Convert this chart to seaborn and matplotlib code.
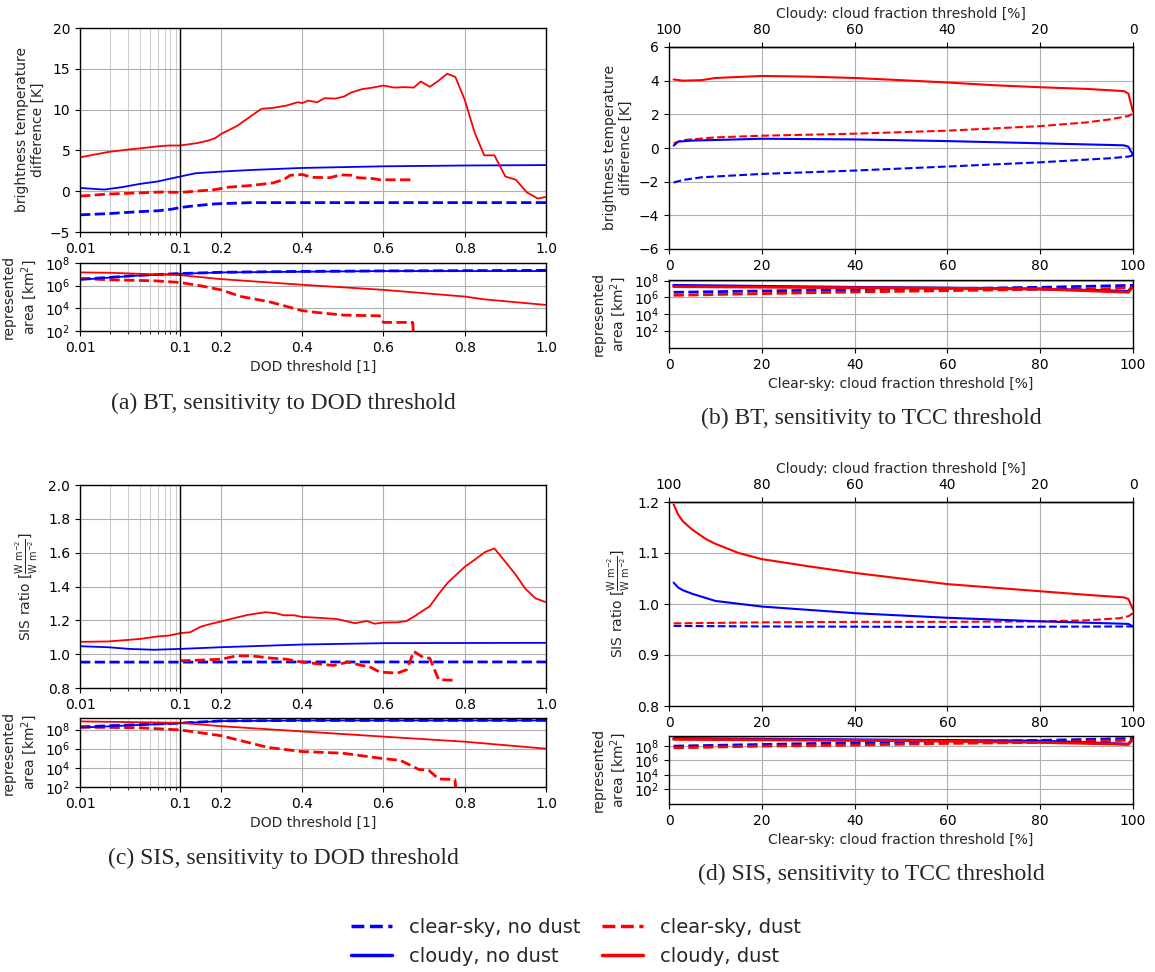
import numpy as np
import matplotlib
matplotlib.use("Agg")
import matplotlib.pyplot as plt
import seaborn as sns
from matplotlib.lines import Line2D
from matplotlib.ticker import FixedLocator, NullLocator

# ---------------- data ----------------
# Panel (a): BT vs DOD threshold
a_cd_x = [0.01, 0.019, 0.03, 0.04, 0.06, 0.077, 0.1, 0.142, 0.169, 0.186, 0.2, 0.22, 0.24, 0.274, 0.30,
          0.327, 0.362, 0.389, 0.4, 0.415, 0.437, 0.455, 0.481, 0.503, 0.521, 0.547, 0.574, 0.6, 0.626,
          0.653, 0.675, 0.692, 0.714, 0.732, 0.757, 0.777, 0.8, 0.825, 0.848, 0.873, 0.9, 0.926, 0.953,
          0.98, 1.0]
a_cd_y = [4.15, 4.8, 5.1, 5.25, 5.5, 5.6, 5.6, 5.9, 6.2, 6.5, 7.0, 7.5, 8.0, 9.2, 10.1,
          10.2, 10.5, 10.9, 10.8, 11.1, 10.9, 11.4, 11.35, 11.6, 12.1, 12.5, 12.7, 12.95, 12.7,
          12.75, 12.7, 13.45, 12.8, 13.4, 14.4, 14.0, 11.2, 7.1, 4.4, 4.4, 1.8, 1.4, -0.15,
          -0.9, -0.7]
a_cn_x = [0.01, 0.0175, 0.0264, 0.0398, 0.06, 0.077, 0.1, 0.138, 0.2, 0.274, 0.4, 0.6, 0.8, 1.0]
a_cn_y = [0.4, 0.2, 0.5, 0.9, 1.2, 1.5, 1.8, 2.2, 2.4, 2.6, 2.85, 3.05, 3.15, 3.2]
a_sn_x = [0.01, 0.019, 0.0398, 0.06, 0.083, 0.1, 0.133, 0.186, 0.274, 0.4, 0.6, 0.8, 1.0]
a_sn_y = [-2.9, -2.75, -2.5, -2.4, -2.2, -2.0, -1.8, -1.55, -1.4, -1.4, -1.4, -1.4, -1.4]
a_sd_x = [0.01, 0.019, 0.0398, 0.065, 0.1, 0.15, 0.186, 0.22, 0.274, 0.327, 0.354, 0.371, 0.4,
          0.424, 0.468, 0.494, 0.521, 0.538, 0.574, 0.591, 0.67]
a_sd_y = [-0.6, -0.35, -0.2, -0.1, -0.15, 0.05, 0.2, 0.5, 0.7, 1.0, 1.4, 1.95, 2.05,
          1.7, 1.65, 2.0, 1.95, 1.65, 1.55, 1.4, 1.4]
# represented area (log10 km^2)
a_area_cd_x = [0.01, 0.019, 0.1, 0.2, 0.4, 0.6, 0.8, 0.846, 1.0]
a_area_cd_y = [7.17, 7.14, 6.93, 6.58, 6.08, 5.63, 5.04, 4.8, 4.3]
a_area_cn_x = [0.01, 0.019, 0.036, 0.1, 0.2, 0.4, 0.6, 1.0]
a_area_cn_y = [6.52, 6.7, 6.88, 7.05, 7.17, 7.23, 7.29, 7.29]
a_area_sn_x = [0.01, 0.019, 0.036, 0.1, 0.2, 0.4, 0.6, 1.0]
a_area_sn_y = [6.58, 6.72, 6.9, 7.07, 7.18, 7.26, 7.3, 7.35]
a_area_sd_x = [0.01, 0.019, 0.055, 0.1, 0.15, 0.2, 0.25, 0.32, 0.4, 0.432, 0.503, 0.574, 0.59,
               0.6, 0.672, 0.675]
a_area_sd_y = [6.64, 6.52, 6.43, 6.28, 5.99, 5.63, 5.04, 4.57, 3.8, 3.65, 3.4, 3.35, 3.35,
               2.76, 2.76, 1.0]

# Panel (b): BT vs TCC threshold
b_cd_x = [1, 3, 7, 10, 15, 20, 30, 40, 50, 60, 70, 80, 90, 98, 99, 100]
b_cd_y = [4.07, 4.0, 4.03, 4.16, 4.22, 4.28, 4.24, 4.16, 4.03, 3.89, 3.73, 3.61, 3.51, 3.38, 3.24, 2.15]
b_sd_x = [1, 3, 10, 20, 40, 60, 80, 90, 95, 99, 100]
b_sd_y = [0.28, 0.47, 0.63, 0.73, 0.85, 1.03, 1.30, 1.52, 1.7, 1.9, 2.05]
b_cn_x = [1, 2, 5, 20, 40, 60, 80, 98, 99, 100]
b_cn_y = [0.14, 0.38, 0.44, 0.55, 0.51, 0.41, 0.28, 0.16, 0.08, -0.41]
b_sn_x = [1, 3, 7, 20, 40, 60, 80, 95, 99, 100]
b_sn_y = [-2.05, -1.9, -1.74, -1.54, -1.34, -1.1, -0.85, -0.61, -0.51, -0.43]
b_area_cn_x = [1, 40, 60, 80, 99, 100]
b_area_cn_y = [7.44, 7.2, 7.12, 7.0, 6.72, 7.44]
b_area_cd_x = [1, 50, 80, 99, 100]
b_area_cd_y = [7.28, 7.12, 7.0, 6.6, 7.28]
b_area_sn_x = [1, 20, 40, 60, 80, 90, 100]
b_area_sn_y = [6.6, 6.76, 6.92, 7.04, 7.2, 7.32, 7.44]
b_area_sd_x = [1, 20, 40, 60, 80, 95, 100]
b_area_sd_y = [6.24, 6.44, 6.64, 6.8, 6.96, 7.04, 7.2]

# Panel (c): SIS vs DOD threshold
c_cd_x = [0.01, 0.019, 0.0398, 0.06, 0.077, 0.1, 0.125, 0.151, 0.177, 0.2, 0.231, 0.266, 0.31,
          0.336, 0.354, 0.38, 0.4, 0.433, 0.486, 0.53, 0.56, 0.578, 0.6, 0.635, 0.657, 0.679,
          0.697, 0.714, 0.736, 0.758, 0.8, 0.829, 0.851, 0.873, 0.9, 0.926, 0.948, 0.974, 1.0]
c_cd_y = [1.073, 1.075, 1.09, 1.105, 1.11, 1.124, 1.13, 1.163, 1.18, 1.193, 1.212, 1.232, 1.248,
          1.242, 1.23, 1.23, 1.22, 1.216, 1.208, 1.183, 1.196, 1.18, 1.187, 1.188, 1.196, 1.228,
          1.257, 1.283, 1.356, 1.422, 1.516, 1.566, 1.605, 1.625, 1.546, 1.468, 1.39, 1.33, 1.307]
c_cn_x = [0.01, 0.019, 0.031, 0.055, 0.1, 0.2, 0.4, 0.6, 1.0]
c_cn_y = [1.047, 1.041, 1.031, 1.026, 1.031, 1.041, 1.057, 1.065, 1.067]
c_sn_x = [0.01, 0.1, 0.4, 1.0]
c_sn_y = [0.953, 0.953, 0.954, 0.954]
c_sd_x = [0.1, 0.151, 0.2, 0.239, 0.274, 0.327, 0.362, 0.4, 0.424, 0.477, 0.512, 0.547, 0.565,
          0.591, 0.635, 0.657, 0.675, 0.697, 0.714, 0.736, 0.78]
c_sd_y = [0.961, 0.965, 0.97, 0.99, 0.99, 0.976, 0.97, 0.953, 0.947, 0.933, 0.953, 0.933, 0.927,
          0.894, 0.888, 0.908, 1.016, 0.982, 0.976, 0.849, 0.845]
c_area_cd_x = [0.01, 0.1, 0.2, 0.4, 0.6, 0.8, 1.0]
c_area_cd_y = [8.85, 8.7, 8.35, 7.8, 7.26, 6.73, 6.0]
c_area_cn_x = [0.01, 0.1, 0.2, 0.4, 1.0]
c_area_cn_y = [8.2, 8.67, 8.88, 8.95, 8.95]
c_area_sn_x = [0.01, 0.1, 0.2, 0.4, 1.0]
c_area_sn_y = [8.28, 8.67, 8.9, 8.95, 8.96]
c_area_sd_x = [0.01, 0.04, 0.1, 0.2, 0.25, 0.316, 0.4, 0.5, 0.6, 0.642, 0.687, 0.711, 0.736,
               0.776, 0.78]
c_area_sd_y = [8.25, 8.18, 7.96, 7.36, 6.83, 6.13, 5.7, 5.53, 4.96, 4.78, 3.83, 3.76, 2.84,
               2.77, 1.0]

# Panel (d): SIS vs TCC threshold
d_cd_x = [1, 2, 3, 5, 8, 10, 15, 20, 30, 40, 50, 60, 70, 80, 90, 98, 99, 100]
d_cd_y = [1.195, 1.175, 1.162, 1.146, 1.127, 1.118, 1.10, 1.088, 1.074, 1.061, 1.05, 1.039,
          1.032, 1.025, 1.018, 1.013, 1.010, 0.989]
d_cn_x = [1, 2, 3, 5, 10, 20, 40, 60, 80, 99, 100]
d_cn_y = [1.042, 1.032, 1.027, 1.02, 1.006, 0.995, 0.982, 0.973, 0.966, 0.961, 0.956]
d_sd_x = [1, 20, 40, 60, 80, 90, 97, 99, 100]
d_sd_y = [0.962, 0.964, 0.965, 0.965, 0.966, 0.968, 0.972, 0.976, 0.982]
d_sn_x = [1, 20, 60, 100]
d_sn_y = [0.957, 0.956, 0.955, 0.956]
d_area_cn_x = [1, 50, 80, 99, 100]
d_area_cn_y = [9.01, 8.78, 8.65, 8.23, 9.01]
d_area_cd_x = [1, 50, 80, 99, 100]
d_area_cd_y = [8.88, 8.7, 8.46, 8.2, 8.88]
d_area_sn_x = [1, 20, 40, 60, 80, 100]
d_area_sn_y = [7.95, 8.18, 8.41, 8.55, 8.74, 9.0]
d_area_sd_x = [1, 20, 40, 60, 80, 100]
d_area_sd_y = [7.72, 7.95, 8.1, 8.32, 8.46, 8.78]

legend_labels = ["clear-sky, no dust", "cloudy, no dust", "clear-sky, dust", "cloudy, dust"]
captions = ["(a) BT, sensitivity to DOD threshold", "(b) BT, sensitivity to TCC threshold",
            "(c) SIS, sensitivity to DOD threshold", "(d) SIS, sensitivity to TCC threshold"]
dod_ticks = [0.01, 0.1, 0.2, 0.4, 0.6, 0.8, 1.0]
dod_ticklabels = ["0.01", "0.1", "0.2", "0.4", "0.6", "0.8", "1.0"]
dod_minor = [0.02, 0.03, 0.04, 0.05, 0.06, 0.07, 0.08, 0.09]
tcc_ticks = [0, 20, 40, 60, 80, 100]

# ---------------- style ----------------
sns.set_style("ticks")
plt.rcParams["font.family"] = ["DejaVu Sans"]
plt.rcParams["font.size"] = 10
plt.rcParams["xtick.labelsize"] = 10
plt.rcParams["ytick.labelsize"] = 10
plt.rcParams["axes.labelsize"] = 10
plt.rcParams["axes.edgecolor"] = "black"
plt.rcParams["axes.linewidth"] = 1.0
plt.rcParams["xtick.color"] = "black"
plt.rcParams["ytick.color"] = "black"

BLUE = "#0000ff"
RED = "#ff0000"
GRID = "#b0b0b0"

W, H = 1155, 972
fig = plt.figure(figsize=(W / 100, H / 100), dpi=100)


def rect(l, r, t, b):
    return [l / W, 1 - b / H, (r - l) / W, (b - t) / H]


F = 0.215


def fwd(x):
    x = np.asarray(x, dtype=float)
    xl = np.log10(np.clip(x, 1e-12, None) / 0.01) * F
    xr = F + (1 - F) * (x - 0.1) / 0.9
    return np.where(x <= 0.1, xl, xr)


def inv(u):
    u = np.clip(np.asarray(u, dtype=float), -20, 20)
    return np.where(u <= F, 0.01 * 10 ** (u / F), 0.1 + (u - F) / (1 - F) * 0.9)


def draw(ax, x, y, color, dashed, lw, log=False):
    yy = 10 ** np.asarray(y, dtype=float) if log else np.asarray(y, dtype=float)
    sns.lineplot(x=np.asarray(x, dtype=float), y=yy, ax=ax, color=color,
                 linestyle=(0, (3.7, 1.6)) if dashed else "-", linewidth=lw,
                 estimator=None, sort=False, legend=False)


def style_dod(ax):
    ax.set_xscale("function", functions=(fwd, inv))
    ax.set_xlim(0.01, 1.0)
    ax.xaxis.set_major_locator(FixedLocator(dod_ticks))
    ax.set_xticklabels(dod_ticklabels)
    ax.xaxis.set_minor_locator(FixedLocator(dod_minor))
    ax.xaxis.grid(True, which="major", color=GRID, lw=0.8)
    ax.xaxis.grid(True, which="minor", color="#cfcfcf", lw=0.8)
    ax.yaxis.grid(True, which="major", color=GRID, lw=0.8)
    ax.axvline(0.1, color="black", lw=1.0, zorder=3)
    ax.tick_params(which="minor", length=2)


def style_tcc(ax):
    ax.set_xlim(0, 100)
    ax.set_xticks(tcc_ticks)
    ax.grid(True, which="major", color=GRID, lw=0.8)


def style_area(ax, ylim):
    ax.set_yscale("log")
    ax.set_ylim(*ylim)
    ax.set_yticks([1e2, 1e4, 1e6, 1e8])
    ax.yaxis.set_minor_locator(NullLocator())
    ax.set_ylabel("represented\narea [km$^2$]")


def draw_set(ax, cn, cd, sn, sd, log=False, lw_s=1.3, lw_d=2.0):
    draw(ax, *sn, BLUE, True, lw_d, log)
    draw(ax, *sd, RED, True, lw_d, log)
    draw(ax, *cn, BLUE, False, lw_s, log)
    draw(ax, *cd, RED, False, lw_s, log)


L1, R1 = 80, 546
L2, R2 = 669, 1133

# ---- (a) ----
axA = fig.add_axes(rect(L1, R1, 28, 232))
draw_set(axA, (a_cn_x, a_cn_y), (a_cd_x, a_cd_y), (a_sn_x, a_sn_y), (a_sd_x, a_sd_y))
style_dod(axA)
axA.set_ylim(-5, 20)
axA.set_yticks([-5, 0, 5, 10, 15, 20])
axA.set_ylabel("brightness temperature\ndifference [K]")
axA.yaxis.set_label_coords(-0.075, 0.5)

axA2 = fig.add_axes(rect(L1, R1, 263, 331))
draw_set(axA2, (a_area_cn_x, a_area_cn_y), (a_area_cd_x, a_area_cd_y),
         (a_area_sn_x, a_area_sn_y), (a_area_sd_x, a_area_sd_y), log=True)
style_dod(axA2)
style_area(axA2, (1e2, 1e8))
axA2.yaxis.set_label_coords(-0.088, 0.5)
axA2.set_xlabel("DOD threshold [1]")

# ---- (b) ----
axB = fig.add_axes(rect(L2, R2, 47, 249))
draw_set(axB, (b_cn_x, b_cn_y), (b_cd_x, b_cd_y), (b_sn_x, b_sn_y), (b_sd_x, b_sd_y),
         lw_s=1.5, lw_d=1.5)
style_tcc(axB)
axB.set_ylim(-6, 6)
axB.set_yticks([-6, -4, -2, 0, 2, 4, 6])
axB.set_ylabel("brightness temperature\ndifference [K]")
secB = axB.secondary_xaxis("top", functions=(lambda x: 100 - x, lambda x: 100 - x))
secB.set_xticks([100, 80, 60, 40, 20, 0])
secB.set_xlabel("Cloudy: cloud fraction threshold [%]")

axB2 = fig.add_axes(rect(L2, R2, 280, 348))
draw_set(axB2, (b_area_cn_x, b_area_cn_y), (b_area_cd_x, b_area_cd_y),
         (b_area_sn_x, b_area_sn_y), (b_area_sd_x, b_area_sd_y), log=True, lw_s=2.0, lw_d=2.0)
style_tcc(axB2)
style_area(axB2, (0.8, 1.2e8))
axB2.set_xlabel("Clear-sky: cloud fraction threshold [%]")

# ---- (c) ----
axC = fig.add_axes(rect(L1, R1, 485, 688))
draw_set(axC, (c_cn_x, c_cn_y), (c_cd_x, c_cd_y), (c_sn_x, c_sn_y), (c_sd_x, c_sd_y))
style_dod(axC)
axC.set_ylim(0.8, 2.0)
axC.set_yticks([0.8, 1.0, 1.2, 1.4, 1.6, 1.8, 2.0])
axC.set_ylabel(r"SIS ratio [$\frac{\mathrm{W\ m^{-2}}}{\mathrm{W\ m^{-2}}}$]")
axC.yaxis.set_label_coords(-0.085, 0.5)

axC2 = fig.add_axes(rect(L1, R1, 718, 787))
draw_set(axC2, (c_area_cn_x, c_area_cn_y), (c_area_cd_x, c_area_cd_y),
         (c_area_sn_x, c_area_sn_y), (c_area_sd_x, c_area_sd_y), log=True)
style_dod(axC2)
style_area(axC2, (1e2, 1.6e9))
axC2.yaxis.set_label_coords(-0.088, 0.5)
axC2.set_xlabel("DOD threshold [1]")

# ---- (d) ----
axD = fig.add_axes(rect(L2, R2, 502, 706))
draw_set(axD, (d_cn_x, d_cn_y), (d_cd_x, d_cd_y), (d_sn_x, d_sn_y), (d_sd_x, d_sd_y),
         lw_s=1.5, lw_d=1.5)
style_tcc(axD)
axD.set_ylim(0.8, 1.2)
axD.set_yticks([0.8, 0.9, 1.0, 1.1, 1.2])
axD.set_ylabel(r"SIS ratio [$\frac{\mathrm{W\ m^{-2}}}{\mathrm{W\ m^{-2}}}$]")
secD = axD.secondary_xaxis("top", functions=(lambda x: 100 - x, lambda x: 100 - x))
secD.set_xticks([100, 80, 60, 40, 20, 0])
secD.set_xlabel("Cloudy: cloud fraction threshold [%]")

axD2 = fig.add_axes(rect(L2, R2, 736, 804))
draw_set(axD2, (d_area_cn_x, d_area_cn_y), (d_area_cd_x, d_area_cd_y),
         (d_area_sn_x, d_area_sn_y), (d_area_sd_x, d_area_sd_y), log=True, lw_s=2.0, lw_d=2.0)
style_tcc(axD2)
style_area(axD2, (1.0, 2.2e9))
axD2.set_xlabel("Clear-sky: cloud fraction threshold [%]")

# ---- captions ----
cap_pos = [(283, 403), (871, 418), (283, 858), (871, 874)]
for (cx, cy), txt in zip(cap_pos, captions):
    fig.text(cx / W, 1 - cy / H, txt, ha="center", va="center",
             family="Liberation Serif", fontsize=17)

# ---- legend ----
handles = [Line2D([], [], color=BLUE, ls="--", lw=2.5),
           Line2D([], [], color=BLUE, ls="-", lw=2.5),
           Line2D([], [], color=RED, ls="--", lw=2.5),
           Line2D([], [], color=RED, ls="-", lw=2.5)]
fig.legend(handles, legend_labels, ncol=2, loc="center",
           bbox_to_anchor=(576 / W, 1 - 942 / H), frameon=False, fontsize=14,
           handlelength=2.1, handletextpad=0.9, columnspacing=1.1, labelspacing=0.5)

fig.savefig("out.png", dpi=100)
